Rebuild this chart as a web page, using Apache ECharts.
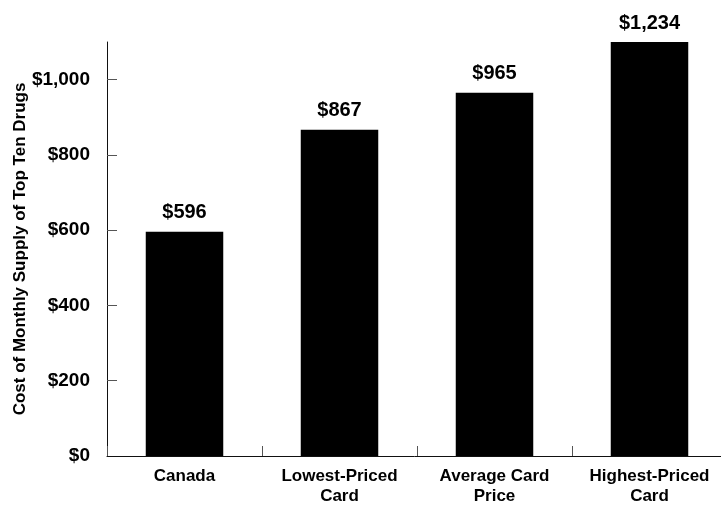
<!DOCTYPE html>
<html>
<head>
<meta charset="utf-8">
<script src="https://cdn.jsdelivr.net/npm/echarts@6/dist/echarts.min.js"></script>
<style>html,body{margin:0;padding:0;background:#fff}#c{width:721px;height:506px}</style>
</head>
<body>
<div id="c"></div>
<script>
var categories = ['Canada', 'Lowest-Priced\nCard', 'Average Card\nPrice', 'Highest-Priced\nCard'];
var costs = [596, 867, 965, 1234];
var yTicks = [0, 200, 400, 600, 800, 1000];
var yName = 'Cost of Monthly Supply of Top Ten Drugs';

function money(v) {
  return '$' + String(v).replace(/\B(?=(\d{3})+(?!\d))/g, ',');
}
var FONT = 'Liberation Sans, Arial, sans-serif';
var chart = echarts.init(document.getElementById('c'));
chart.setOption({
  animation: false,
  backgroundColor: '#fff',
  grid: { left: 107, right: -6, top: 42, bottom: 50, containLabel: false, outerBoundsMode: 'none' },
  xAxis: {
    type: 'category',
    data: categories,
    axisLine: { lineStyle: { color: '#111', width: 1 } },
    axisTick: { show: true, inside: true, length: 10, lineStyle: { color: '#555' } },
    axisLabel: { color: '#000', fontFamily: FONT, fontWeight: 'bold', fontSize: 17, lineHeight: 20, margin: 10, interval: 0 }
  },
  yAxis: {
    type: 'value',
    min: 0, max: 1100, interval: 200,
    name: yName,
    nameLocation: 'middle',
    nameGap: 78,
    nameMoveOverlap: false,
    nameTextStyle: { color: '#000', fontFamily: FONT, fontWeight: 'bold', fontSize: 17 },
    splitLine: { show: false },
    axisLine: { show: true, lineStyle: { color: '#111', width: 1 } },
    axisTick: { show: true, inside: true, length: 10, lineStyle: { color: '#555' }, customValues: yTicks.slice(1) },
    axisLabel: { color: '#000', fontFamily: FONT, fontWeight: 'bold', fontSize: 19, margin: 17, customValues: yTicks, formatter: money }
  },
  series: [{
    type: 'bar',
    data: costs,
    barWidth: '50%',
    clip: true,
    itemStyle: { color: '#000' },
    label: { show: true, position: 'top', distance: 9, color: '#000', fontFamily: FONT, fontWeight: 'bold', fontSize: 20, formatter: function (p) { return money(p.value); } }
  }]
});
</script>
</body>
</html>
